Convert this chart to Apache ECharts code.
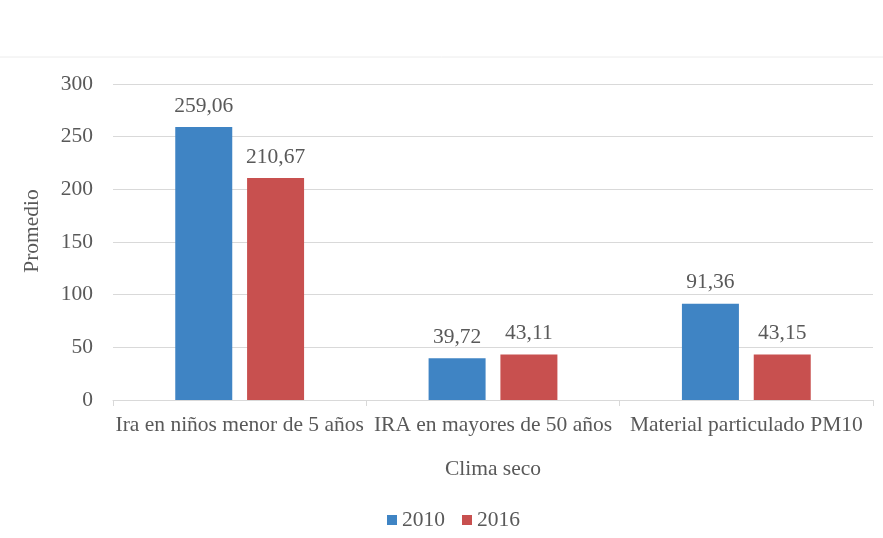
<!DOCTYPE html>
<html lang="es" style="height: 100%">
<head>
    <meta charset="utf-8">
</head>
<body style="height: 100%; margin: 0; background: #ffffff;">
    <div id="container" style="height: 100%"></div>

    <script type="text/javascript" src="https://cdn.jsdelivr.net/npm/echarts@6/dist/echarts.min.js"></script>
    <script type="text/javascript">
        var categories = ['Ira en niños menor de 5 años', 'IRA en mayores de 50 años', 'Material particulado PM10'];
        var values2010 = [259.06, 39.72, 91.36];
        var values2016 = [210.67, 43.11, 43.15];
        var seriesNames = ['2010', '2016'];

        var fontFam = '"Liberation Serif", "Times New Roman", serif';
        var txtColor = '#595959';
        var fs = 21.5;

        var dom = document.getElementById('container');
        var myChart = echarts.init(dom, null, { renderer: 'canvas' });

        function fmt(p) {
            return p.value.toFixed(2).replace('.', ',');
        }

        var option = {
            backgroundColor: '#ffffff',
            textStyle: { fontFamily: fontFam },
            graphic: [{
                type: 'line',
                shape: { x1: 0, y1: 57, x2: 883, y2: 57 },
                style: { stroke: '#ececec', lineWidth: 1 }
            }],
            legend: {
                data: seriesNames,
                bottom: 2,
                left: 382,
                itemWidth: 10,
                itemHeight: 10,
                itemGap: 17,
                icon: 'rect',
                textStyle: { color: txtColor, fontSize: fs, fontFamily: fontFam }
            },
            grid: {
                left: 113,
                right: 10,
                top: 84,
                bottom: 138
            },
            xAxis: {
                type: 'category',
                data: categories,
                name: 'Clima seco',
                nameLocation: 'middle',
                nameGap: 58,
                nameTextStyle: { color: txtColor, fontSize: fs, fontFamily: fontFam },
                axisLine: { lineStyle: { color: '#d9d9d9' } },
                axisTick: { show: true, length: 6, lineStyle: { color: '#d9d9d9' } },
                axisLabel: { color: txtColor, fontSize: fs, fontFamily: fontFam, margin: 14, interval: 0 }
            },
            yAxis: {
                type: 'value',
                min: 0,
                max: 300,
                interval: 50,
                name: 'Promedio',
                nameLocation: 'middle',
                nameGap: 70,
                nameTextStyle: { color: txtColor, fontSize: fs, fontFamily: fontFam, padding: [0, 0, 0, 22] },
                axisLine: { show: false },
                axisTick: { show: false },
                axisLabel: { color: txtColor, fontSize: fs, fontFamily: fontFam, margin: 20 },
                splitLine: { lineStyle: { color: '#d9d9d9' } }
            },
            series: [{
                name: seriesNames[0],
                type: 'bar',
                data: values2010,
                barWidth: 57,
                barGap: '26%',
                itemStyle: { color: '#3f84c4' },
                label: { show: true, position: 'top', distance: 10, formatter: fmt, color: txtColor, fontSize: fs, fontFamily: fontFam }
            }, {
                name: seriesNames[1],
                type: 'bar',
                data: values2016,
                barWidth: 57,
                itemStyle: { color: '#c8504f' },
                label: { show: true, position: 'top', distance: 10, formatter: fmt, color: txtColor, fontSize: fs, fontFamily: fontFam }
            }]
        };

        myChart.setOption(option);
        window.addEventListener('resize', myChart.resize);
    </script>
</body>
</html>
